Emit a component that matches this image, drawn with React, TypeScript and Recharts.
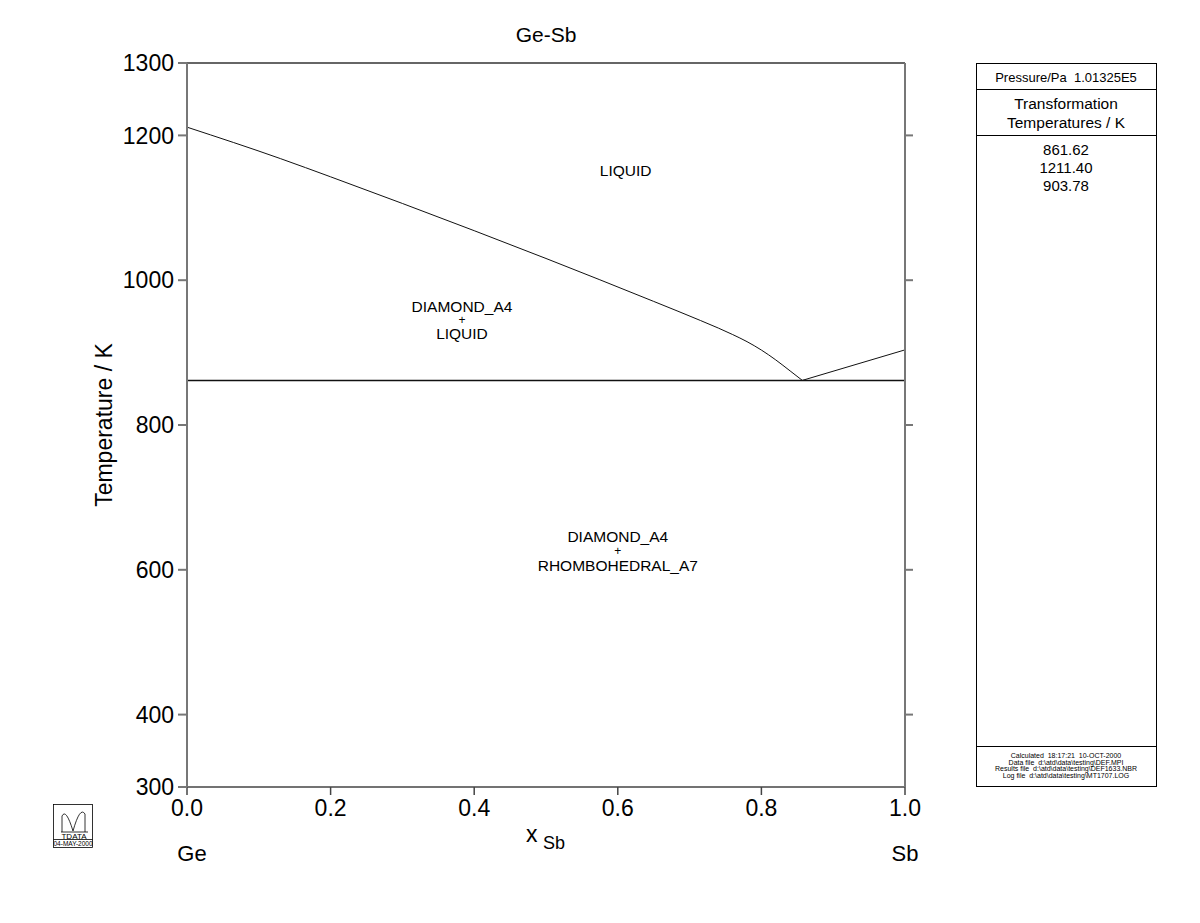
import React from 'react';
import { LineChart, Line, XAxis, YAxis, ReferenceLine, ReferenceDot } from 'recharts';

const FONT = '"Liberation Sans", Arial, Helvetica, sans-serif';

// Liquidus (Ge-rich side), x = mole fraction Sb, T in K
const liquidusGe = [
  { x: 0, T: 1211.4 },
  { x: 0.13, T: 1168 },
  { x: 0.2, T: 1142.8 },
  { x: 0.3, T: 1106 },
  { x: 0.4, T: 1068.4 },
  { x: 0.5, T: 1030 },
  { x: 0.575, T: 1000.6 },
  { x: 0.65, T: 970.7 },
  { x: 0.715, T: 944.4 },
  { x: 0.74, T: 933.9 },
  { x: 0.76, T: 924.9 },
  { x: 0.78, T: 915.1 },
  { x: 0.8, T: 903.5 },
  { x: 0.82, T: 889.9 },
  { x: 0.84, T: 874.7 },
  { x: 0.857, T: 861.62 },
];
// Liquidus (Sb-rich side)
const liquidusSb = [
  { x: 0.857, T: 861.62 },
  { x: 1, T: 903.78 },
];
// Eutectic horizontal
const eutectic = [
  { x: 0, T: 861.62 },
  { x: 1, T: 861.62 },
];

const xTicks = [0, 0.2, 0.4, 0.6, 0.8, 1.0];
const yTicksLeft = [300, 400, 600, 800, 1000, 1200, 1300];
const yTicksRight = [400, 600, 800, 1000, 1200];

const transformationTemps = ['861.62', '1211.40', '903.78'];
const footerLines = [
  'Calculated  18:17:21  10-OCT-2000',
  'Data file  d:\\atd\\data\\testing\\DEF.MPI',
  'Results file  d:\\atd\\data\\testing\\DEF1633.NBR',
  'Log file  d:\\atd\\data\\testing\\MT1707.LOG',
];

// Phase region labels: [x, T, text, fontSize]
const regionLabels: [number, number, string, number][] = [
  [0.611, 1151, 'LIQUID', 15.5],
  [0.383, 964, 'DIAMOND_A4', 15.5],
  [0.383, 946, '+', 12],
  [0.383, 926.5, 'LIQUID', 15.5],
  [0.6, 645.5, 'DIAMOND_A4', 15.5],
  [0.6, 626, '+', 12],
  [0.6, 605.5, 'RHOMBOHEDRAL_A7', 15.5],
];

const XLabel = (props: any) => {
  const vb = props.viewBox || {};
  const x0 = vb.x;
  const x1 = vb.x + vb.width;
  const cx = vb.x + vb.width / 2;
  const y = vb.y;
  return (
    <g fontFamily={FONT} fill="#000">
      <text x={cx - 20} y={y + 55} fontSize={23}>x</text>
      <text x={cx - 3} y={y + 62} fontSize={18}>Sb</text>
      <text x={x0 + 5} y={y + 74} fontSize={22} textAnchor="middle">Ge</text>
      <text x={x1} y={y + 74} fontSize={22} textAnchor="middle">Sb</text>
    </g>
  );
};

const YLabel = (props: any) => {
  const vb = props.viewBox || {};
  const cx = vb.x + 17;
  const cy = vb.y + vb.height / 2;
  return (
    <text
      x={cx}
      y={cy}
      transform={`rotate(-90 ${cx} ${cy})`}
      textAnchor="middle"
      dominantBaseline="central"
      fontFamily={FONT}
      fontSize={23}
      fill="#000"
    >
      Temperature / K
    </text>
  );
};

const pre = { whiteSpace: 'pre' as const };

export default function App() {
  return (
    <div style={{ position: 'absolute', left: 0, top: 0, width: 1200, height: 923, background: '#fff' }}>
      <div style={{ position: 'absolute', left: 0, top: 0 }}>
        <LineChart
          width={1200}
          height={923}
          margin={{ top: 63, left: 87, right: 285, bottom: 106 }}
        >
          <XAxis
            type="number"
            dataKey="x"
            domain={[0, 1]}
            ticks={xTicks}
            allowDataOverflow
            tickFormatter={(v: number) => v.toFixed(1)}
            tickSize={8}
            tickMargin={5}
            height={30}
            stroke="#444"
            strokeWidth={1.5}
            tick={{ fill: '#000', fontSize: 23, fontFamily: FONT }}
            label={<XLabel />}
          />
          <YAxis
            yAxisId="left"
            type="number"
            domain={[300, 1300]}
            ticks={yTicksLeft}
            allowDataOverflow
            width={100}
            tickSize={9}
            tickMargin={4}
            stroke="#777"
            strokeWidth={2}
            tick={{ fill: '#000', fontSize: 23, fontFamily: FONT }}
            label={<YLabel />}
          />
          <YAxis
            yAxisId="right"
            orientation="right"
            type="number"
            domain={[300, 1300]}
            ticks={yTicksRight}
            allowDataOverflow
            width={10}
            tickSize={8}
            tickFormatter={() => ''}
            stroke="#777"
            strokeWidth={2}
          />
          <ReferenceLine yAxisId="left" y={1300} stroke="#333" strokeWidth={1.5} />
          <Line
            yAxisId="left"
            data={eutectic}
            dataKey="T"
            type="linear"
            stroke="#111"
            strokeWidth={1.5}
            dot={false}
            isAnimationActive={false}
          />
          <Line
            yAxisId="left"
            data={liquidusGe}
            dataKey="T"
            type="monotone"
            stroke="#111"
            strokeWidth={1}
            dot={false}
            isAnimationActive={false}
          />
          <Line
            yAxisId="left"
            data={liquidusSb}
            dataKey="T"
            type="linear"
            stroke="#111"
            strokeWidth={1}
            dot={false}
            isAnimationActive={false}
          />
          {regionLabels.map(([x, T, text, fs], i) => (
            <ReferenceDot
              key={i}
              yAxisId="left"
              x={x}
              y={T}
              r={1}
              fill="none"
              stroke="none"
              label={{ value: text, position: 'center', fontSize: fs, fontFamily: FONT, fill: '#000' }}
            />
          ))}
        </LineChart>
      </div>
      <svg
        width={1200}
        height={923}
        style={{ position: 'absolute', left: 0, top: 0, pointerEvents: 'none' }}
        fontFamily={FONT}
      >
        <text x={546} y={42} textAnchor="middle" fontSize={21} fill="#000">Ge-Sb</text>

        {/* Right info panel */}
        <rect x={976.5} y={63.5} width={180} height={723} fill="none" stroke="#000" strokeWidth={1} />
        <line x1={976.5} x2={1156.5} y1={89.5} y2={89.5} stroke="#000" />
        <line x1={976.5} x2={1156.5} y1={135.5} y2={135.5} stroke="#000" />
        <line x1={976.5} x2={1156.5} y1={746.5} y2={746.5} stroke="#000" />
        <text x={1066} y={82} textAnchor="middle" fontSize={13} fill="#000" style={pre}>Pressure/Pa  1.01325E5</text>
        <text x={1066} y={109} textAnchor="middle" fontSize={15.5} fill="#000">Transformation</text>
        <text x={1066} y={128} textAnchor="middle" fontSize={15.5} fill="#000">Temperatures / K</text>
        {transformationTemps.map((t, i) => (
          <text key={t} x={1066} y={155 + i * 18} textAnchor="middle" fontSize={15} fill="#000">{t}</text>
        ))}
        {footerLines.map((t, i) => (
          <text key={i} x={1066} y={758 + i * 6.5} textAnchor="middle" fontSize={7} fill="#000" style={pre}>{t}</text>
        ))}

        {/* TDATA logo */}
        <g stroke="#000" fill="none" strokeWidth={0.8}>
          <rect x={53.5} y={804.5} width={39} height={43} />
          <line x1={53.5} x2={92.5} y1={839.5} y2={839.5} />
          <path d="M 62 832 L 62 816 Q 66 808 73 831 Q 80 806 85 814 L 85 832" />
          <line x1={61} x2={88} y1={832} y2={832} />
        </g>
        <text x={74} y={839} textAnchor="middle" fontSize={8} fill="#000">TDATA</text>
        <text x={73} y={846} textAnchor="middle" fontSize={6.5} fill="#000">04-MAY-2000</text>
      </svg>
    </div>
  );
}
